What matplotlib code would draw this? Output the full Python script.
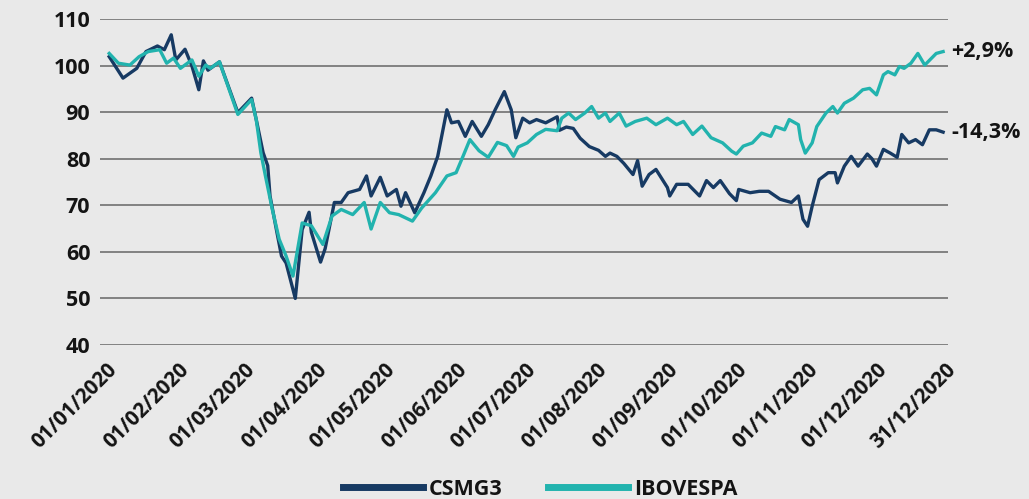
import pandas as pd
import matplotlib.pyplot as plt

# CSMG3 (base 100)
csmg3_dates = ["2020-01-02", "2020-01-08", "2020-01-14", "2020-01-18", "2020-01-23", "2020-01-26",
               "2020-01-29", "2020-01-31", "2020-02-04", "2020-02-07", "2020-02-10", "2020-02-12",
               "2020-02-14", "2020-02-19", "2020-02-27", "2020-03-04", "2020-03-06", "2020-03-09",
               "2020-03-11", "2020-03-12", "2020-03-15", "2020-03-17", "2020-03-19", "2020-03-23",
               "2020-03-26", "2020-03-29", "2020-03-30", "2020-04-03", "2020-04-05", "2020-04-09",
               "2020-04-12", "2020-04-15", "2020-04-20", "2020-04-23", "2020-04-25", "2020-04-29",
               "2020-05-02", "2020-05-06", "2020-05-08", "2020-05-10", "2020-05-14", "2020-05-18",
               "2020-05-21", "2020-05-24", "2020-05-28", "2020-05-30", "2020-06-02", "2020-06-05",
               "2020-06-08", "2020-06-12", "2020-06-15", "2020-06-18", "2020-06-22", "2020-06-25",
               "2020-06-27", "2020-06-30", "2020-07-03", "2020-07-06", "2020-07-10", "2020-07-15",
               "2020-07-16", "2020-07-19", "2020-07-22", "2020-07-25", "2020-07-29", "2020-08-02",
               "2020-08-05", "2020-08-07", "2020-08-10", "2020-08-13", "2020-08-17", "2020-08-19",
               "2020-08-21", "2020-08-24", "2020-08-27", "2020-09-01", "2020-09-02", "2020-09-05",
               "2020-09-10", "2020-09-15", "2020-09-18", "2020-09-21", "2020-09-24", "2020-09-28",
               "2020-10-01", "2020-10-02", "2020-10-07", "2020-10-11", "2020-10-15", "2020-10-20",
               "2020-10-25", "2020-10-28", "2020-10-30", "2020-11-01", "2020-11-03", "2020-11-06",
               "2020-11-10", "2020-11-13", "2020-11-14", "2020-11-17", "2020-11-20", "2020-11-23",
               "2020-11-27", "2020-11-29", "2020-12-01", "2020-12-04", "2020-12-07", "2020-12-10",
               "2020-12-12", "2020-12-15", "2020-12-18", "2020-12-21", "2020-12-24", "2020-12-27",
               "2020-12-30"]
csmg3_vals = [101.9, 97.3, 99.4, 103.0, 104.2, 103.4,
              106.6, 101.2, 103.5, 99.9, 94.8, 101.0,
              99.0, 100.8, 89.9, 93.0, 88.4, 81.3,
              78.5, 72.0, 64.2, 59.1, 57.6, 50.0,
              64.8, 68.5, 64.2, 57.8, 60.7, 70.6,
              70.6, 72.7, 73.4, 76.3, 72.0, 76.0,
              72.0, 73.4, 69.8, 72.7, 68.4, 72.7,
              76.3, 80.5, 90.5, 87.7, 88.0, 84.8,
              88.0, 84.8, 87.3, 90.5, 94.4, 90.5,
              84.5, 88.7, 87.7, 88.4, 87.7, 89.0,
              86.1, 86.8, 86.5, 84.4, 82.6, 81.8,
              80.5, 81.2, 80.5, 79.0, 76.6, 79.6,
              74.1, 76.6, 77.7, 73.8, 72.0, 74.5,
              74.5, 72.0, 75.3, 73.8, 75.3, 72.5,
              71.0, 73.4, 72.7, 73.0, 73.0, 71.3,
              70.6, 72.0, 67.0, 65.5, 69.8, 75.5,
              77.0, 77.0, 74.8, 78.4, 80.5, 78.4,
              81.0, 80.0, 78.4, 82.0, 81.2, 80.3,
              85.2, 83.4, 84.1, 83.0, 86.2, 86.2,
              85.7]

# IBOVESPA (base 100)
ibov_dates = ["2020-01-02", "2020-01-06", "2020-01-11", "2020-01-15", "2020-01-19", "2020-01-24",
              "2020-01-27", "2020-01-30", "2020-02-02", "2020-02-07", "2020-02-10", "2020-02-13",
              "2020-02-15", "2020-02-19", "2020-02-27", "2020-03-04", "2020-03-06", "2020-03-08",
              "2020-03-10", "2020-03-13", "2020-03-16", "2020-03-19", "2020-03-22", "2020-03-26",
              "2020-03-30", "2020-04-04", "2020-04-08", "2020-04-12", "2020-04-17", "2020-04-22",
              "2020-04-25", "2020-04-29", "2020-05-03", "2020-05-07", "2020-05-13", "2020-05-17",
              "2020-05-23", "2020-05-28", "2020-06-01", "2020-06-04", "2020-06-07", "2020-06-11",
              "2020-06-15", "2020-06-19", "2020-06-23", "2020-06-26", "2020-06-28", "2020-07-02",
              "2020-07-06", "2020-07-10", "2020-07-15", "2020-07-17", "2020-07-20", "2020-07-23",
              "2020-07-27", "2020-07-30", "2020-08-02", "2020-08-05", "2020-08-07", "2020-08-11",
              "2020-08-14", "2020-08-18", "2020-08-23", "2020-08-27", "2020-09-01", "2020-09-05",
              "2020-09-08", "2020-09-12", "2020-09-16", "2020-09-20", "2020-09-25", "2020-09-29",
              "2020-10-01", "2020-10-04", "2020-10-08", "2020-10-12", "2020-10-16", "2020-10-18",
              "2020-10-22", "2020-10-24", "2020-10-28", "2020-10-29", "2020-10-31", "2020-11-03",
              "2020-11-05", "2020-11-09", "2020-11-12", "2020-11-14", "2020-11-17", "2020-11-21",
              "2020-11-25", "2020-11-28", "2020-12-01", "2020-12-04", "2020-12-06", "2020-12-09",
              "2020-12-11", "2020-12-13", "2020-12-16", "2020-12-19", "2020-12-22", "2020-12-25",
              "2020-12-27", "2020-12-30"]
ibov_vals = [102.6, 100.5, 100.1, 101.9, 103.0, 103.4,
             100.5, 101.6, 99.4, 101.2, 97.7, 100.1,
             99.4, 100.8, 89.5, 92.7, 88.4, 81.3,
             76.3, 69.1, 62.7, 59.1, 54.8, 66.2,
             65.6, 61.6, 67.7, 69.1, 68.0, 70.6,
             64.9, 70.6, 68.4, 68.0, 66.6, 69.4,
             72.7, 76.3, 77.0, 80.5, 84.1, 81.7,
             80.3, 83.5, 82.8, 80.5, 82.5, 83.4,
             85.2, 86.3, 86.0, 88.7, 89.8, 88.4,
             89.8, 91.2, 88.7, 89.8, 88.0, 89.8,
             87.0, 88.0, 88.7, 87.3, 88.7, 87.3,
             88.0, 85.2, 87.0, 84.5, 83.4, 81.6,
             81.0, 82.7, 83.4, 85.5, 84.8, 86.9,
             86.2, 88.4, 87.3, 84.1, 81.2, 83.4,
             86.9, 89.8, 91.2, 89.8, 91.9, 93.0,
             94.8, 95.1, 93.7, 98.0, 98.7, 98.0,
             99.8, 99.4, 100.5, 102.6, 100.1, 101.6,
             102.6, 103.0]

tick_dates = ["2020-01-01", "2020-02-01", "2020-03-01", "2020-04-01", "2020-05-01", "2020-06-01",
              "2020-07-01", "2020-08-01", "2020-09-01", "2020-10-01", "2020-11-01", "2020-12-01",
              "2020-12-31"]
end_labels = ["-14,3%", "+2,9%"]

navy = "#173a63"
teal = "#22b3ae"
bg = "#e9e9e9"
ink = "#141414"
fs = 15.5

plt.rcParams['font.family'] = ['Open Sans', 'DejaVu Sans']
plt.rcParams['font.weight'] = 'bold'

fig = plt.figure(figsize=(10.29, 4.99), dpi=100, facecolor=bg)
ax = fig.add_axes([0.0972, 0.3086, 0.8238, 0.6534])
ax.set_facecolor(bg)

x1 = pd.to_datetime(csmg3_dates)
x2 = pd.to_datetime(ibov_dates)
ax.plot(x1, csmg3_vals, color=navy, lw=2.4, label="CSMG3", zorder=3)
ax.plot(x2, ibov_vals, color=teal, lw=2.4, label="IBOVESPA", zorder=4)

ax.annotate(end_labels[0], (x1[-1], csmg3_vals[-1]), xytext=(6, 0), textcoords="offset points",
            va="center", ha="left", fontsize=fs, fontweight="bold", color=ink,
            annotation_clip=False)
ax.annotate(end_labels[1], (x2[-1], ibov_vals[-1]), xytext=(6, 0), textcoords="offset points",
            va="center", ha="left", fontsize=fs, fontweight="bold", color=ink,
            annotation_clip=False)

ax.set_ylim(40, 110)
ax.set_yticks(range(40, 111, 10))
ax.set_xlim(pd.Timestamp("2019-12-29"), pd.Timestamp("2021-01-01"))
ticks = pd.to_datetime(tick_dates)
ax.set_xticks(ticks)
ax.set_xticklabels([t.strftime("%d/%m/%Y") for t in ticks], rotation=45, ha="right",
                   va="top", rotation_mode="anchor", fontsize=14.8, fontweight="bold")
for lab in ax.get_yticklabels():
    lab.set_fontweight("bold")
    lab.set_fontsize(fs)
ax.tick_params(axis="both", length=0, colors=ink)
ax.tick_params(axis="x", pad=10)
ax.tick_params(axis="y", pad=7)
ax.grid(axis="y", color="#7a7a7a", lw=1.3)
ax.set_axisbelow(True)
for s in ax.spines.values():
    s.set_visible(False)

leg = fig.legend(loc="center", bbox_to_anchor=(0.525, 0.02), ncol=2, frameon=False,
                 prop={"weight": "bold", "size": fs}, handlelength=3.7, columnspacing=2.1,
                 handletextpad=0.3)
for t in leg.get_texts():
    t.set_color(ink)
for h in leg.get_lines():
    h.set_linewidth(5)

fig.savefig("out.png", dpi=100, facecolor=bg)
